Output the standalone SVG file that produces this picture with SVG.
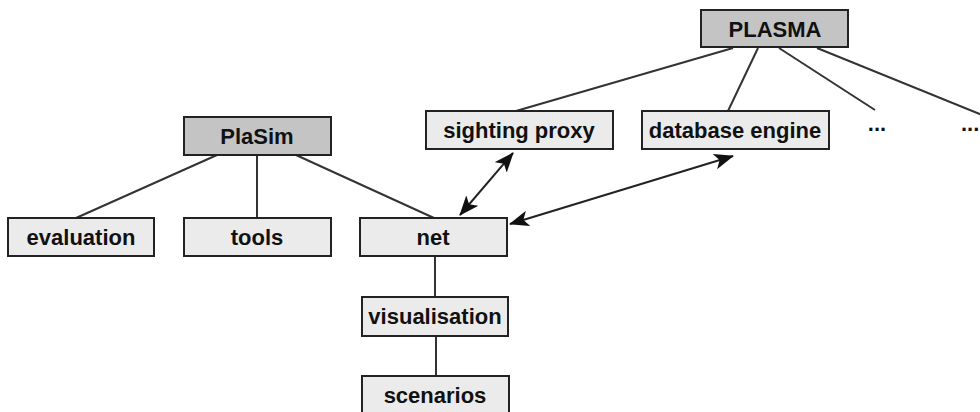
<svg xmlns="http://www.w3.org/2000/svg" width="980" height="412" viewBox="0 0 980 412">
<defs>
<style>
.box rect{stroke:#222;stroke-width:2}
.dark rect{fill:#c4c4c4}
.light rect{fill:#ebebeb}
text{font-family:"Liberation Sans",Arial,sans-serif;font-weight:bold;font-size:22px;fill:#111;text-anchor:middle}
.lines line{stroke:#333;stroke-width:2}
.arrows line{stroke:#222;stroke-width:2}
</style>
<marker id="ah" viewBox="0 0 20 16" refX="19" refY="8" markerWidth="20" markerHeight="16" markerUnits="userSpaceOnUse" orient="auto-start-reverse">
<path d="M0,0 L20,8 L0,16 L5,8 Z" fill="#111"/>
</marker>
</defs>
<rect width="980" height="412" fill="#fff"/>
<g id="connectors">
<g class="lines">
<line x1="733" y1="48" x2="516" y2="111"/>
<line x1="758" y1="48" x2="728" y2="111"/>
<line x1="779" y1="48" x2="875" y2="110"/>
<line x1="817" y1="48" x2="982" y2="115"/>
<line x1="217" y1="155" x2="76" y2="218"/>
<line x1="257" y1="155" x2="257" y2="218"/>
<line x1="296" y1="155" x2="434" y2="218"/>
<line x1="435" y1="257" x2="435" y2="297"/>
<line x1="436" y1="336" x2="436" y2="376"/>
</g>
<g class="arrows">
<line x1="460" y1="215" x2="513" y2="153" marker-start="url(#ah)" marker-end="url(#ah)"/>
<line x1="510" y1="224" x2="733" y2="156" marker-start="url(#ah)" marker-end="url(#ah)"/>
</g>
</g>
<g id="plasma" class="box dark"><rect x="701" y="10" width="147" height="37"/><text x="775" y="37">PLASMA</text></g>
<g id="sighting-proxy" class="box light"><rect x="426" y="111" width="187" height="38"/><text x="519" y="138">sighting proxy</text></g>
<g id="database-engine" class="box light"><rect x="642" y="111" width="187" height="38"/><text x="735" y="138">database engine</text></g>
<g id="more1"><text x="877" y="131">...</text></g>
<g id="more2"><text x="961" y="131" style="text-anchor:start">...</text></g>
<g id="plasim" class="box dark"><rect x="184" y="117" width="147" height="38"/><text x="257" y="144">PlaSim</text></g>
<g id="evaluation" class="box light"><rect x="8" y="218" width="146" height="38"/><text x="81" y="245">evaluation</text></g>
<g id="tools" class="box light"><rect x="184" y="218" width="147" height="38"/><text x="257" y="245">tools</text></g>
<g id="net" class="box light"><rect x="360" y="218" width="147" height="38"/><text x="433" y="245">net</text></g>
<g id="visualisation" class="box light"><rect x="362" y="297" width="146" height="39"/><text x="435" y="324">visualisation</text></g>
<g id="scenarios" class="box light"><rect x="362" y="376" width="147" height="40"/><text x="435" y="403">scenarios</text></g>
</svg>
